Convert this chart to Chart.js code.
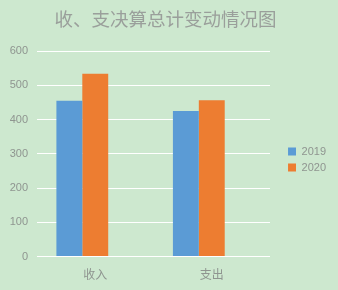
<!DOCTYPE html>
<html>
<head>
<meta charset="utf-8">
<script src="https://cdn.jsdelivr.net/npm/chart.js@4"></script>
<style>
  html, body { margin: 0; padding: 0; background: #cde8cf; }
  #wrap { width: 338px; height: 290px; }
</style>
</head>
<body>
<div id="wrap"><canvas id="chart" width="338" height="290"></canvas></div>
<script>
// Daten
const categories = ['收入', '支出'];
const values2019 = [455, 425];
const values2020 = [534, 457];
const valuesEmpty = [null, null]; // leere dritte Reihe, wie im Original (Platz rechts neben den Balken)
const yTicks = [0, 100, 200, 300, 400, 500, 600];

const FONT = '"Noto Sans CJK SC", "Noto Sans", sans-serif';
const GRAY = '#8f9590';

// Legende etwas nach rechts/unten schieben
const legendShift = {
    id: 'legendShift',
    afterLayout(chart) {
        const lg = chart.legend;
        lg.left += 13; lg.right += 13;
        lg.top += 14; lg.bottom += 14;
    }
};

let ctx = document.getElementById('chart').getContext('2d');
new Chart(ctx, {
    type: 'bar',
    data: {
        labels: categories,
        datasets: [{
            label: '2019',
            data: values2019,
            backgroundColor: '#5b9bd5',
            borderWidth: 0
        }, {
            label: '2020',
            data: values2020,
            backgroundColor: '#ed7d31',
            borderWidth: 0
        }, {
            label: '',
            data: valuesEmpty,
            backgroundColor: 'rgba(0,0,0,0)',
            borderWidth: 0
        }]
    },
    options: {
        responsive: false,
        animation: false,
        layout: {
            padding: { left: 8, right: 15, top: 6, bottom: 5 }
        },
        datasets: {
            bar: { barPercentage: 1, categoryPercentage: 0.667 }
        },
        scales: {
            x: {
                grid: { display: false },
                border: { display: false },
                ticks: { color: GRAY, font: { family: FONT, size: 12 }, padding: 3 }
            },
            y: {
                min: 0,
                max: 600,
                afterBuildTicks: axis => { axis.ticks = yTicks.map(v => ({ value: v })); },
                afterFit: axis => { axis.width = 29; },
                grid: { color: '#ffffff', lineWidth: 1, drawTicks: false },
                border: { display: false },
                ticks: { color: GRAY, font: { family: 'Liberation Sans, sans-serif', size: 11 }, padding: 9 }
            }
        },
        plugins: {
            title: {
                display: true,
                text: '收、支决算总计变动情况图',
                color: '#9a9f9b',
                font: { family: FONT, size: 18.5, weight: 'normal' },
                padding: { top: 2, bottom: 21 }
            },
            legend: {
                position: 'right',
                labels: {
                    color: GRAY,
                    boxWidth: 8,
                    boxHeight: 8,
                    padding: 5,
                    font: { family: 'Liberation Sans, sans-serif', size: 11 },
                    filter: item => item.text !== ''
                }
            },
            tooltip: { enabled: false }
        }
    },
    plugins: [legendShift]
});
</script>
</body>
</html>
